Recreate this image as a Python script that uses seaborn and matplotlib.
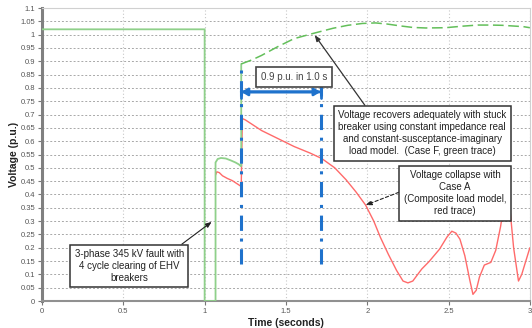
import matplotlib
matplotlib.use("Agg")
import matplotlib.pyplot as plt
import seaborn as sns
import pandas as pd
import numpy as np

# --- traces -------------------------------------------------------------
# Case F (constant impedance / constant susceptance load), through fault clearing
green_pre_t = [0.0, 1.0, 1.0, 1.067, 1.067, 1.08, 1.10, 1.13, 1.16, 1.19, 1.21, 1.225, 1.225]
green_pre_v = [1.02, 1.02, 0.0, 0.0, 0.52, 0.533, 0.537, 0.535, 0.528, 0.52, 0.513, 0.505, 0.89]
# Case F recovery after the stuck breaker clears
green_post_t = [1.225, 1.29, 1.35, 1.45, 1.55, 1.67, 1.79, 1.88, 1.97, 2.05, 2.12, 2.2,
                2.28, 2.36, 2.48, 2.59, 2.68, 2.76, 2.83, 2.96, 3.0]
green_post_v = [0.89, 0.905, 0.922, 0.955, 0.985, 1.005, 1.024, 1.035, 1.042, 1.044, 1.04, 1.033,
                1.027, 1.025, 1.026, 1.032, 1.036, 1.036, 1.035, 1.03, 1.026]
# Case A (composite load model)
red_t = [1.067, 1.075, 1.09, 1.11, 1.14, 1.17, 1.20, 1.225, 1.232, 1.25, 1.30, 1.35, 1.45,
         1.55, 1.65, 1.72, 1.80, 1.87, 1.93, 1.99, 2.04, 2.08, 2.13, 2.18, 2.22, 2.25,
         2.28, 2.335, 2.38, 2.445, 2.49, 2.52, 2.545, 2.57, 2.60, 2.63, 2.65, 2.67, 2.69,
         2.72, 2.76, 2.79, 2.82, 2.84, 2.86, 2.88, 2.90, 2.93, 2.95, 2.98, 3.0]
red_v = [0.473, 0.485, 0.482, 0.47, 0.46, 0.452, 0.44, 0.43, 0.685, 0.68, 0.66, 0.64, 0.61,
         0.58, 0.555, 0.535, 0.50, 0.455, 0.41, 0.36, 0.30, 0.24, 0.175, 0.115, 0.075, 0.068,
         0.075, 0.12, 0.148, 0.195, 0.24, 0.262, 0.255, 0.232, 0.17, 0.08, 0.025, 0.04, 0.09,
         0.135, 0.145, 0.19, 0.28, 0.36, 0.40, 0.33, 0.20, 0.075, 0.10, 0.16, 0.20]

# recovery window markers
window_t = [1.225, 1.713]
window_lo, window_hi = 0.14, 0.895
window_arrow_v = 0.785
window_label = "0.9 p.u. in 1.0 s"

x_ticks = [0, 0.5, 1, 1.5, 2, 2.5, 3]
x_tick_labels = ["0", "0.5", "1", "1.5", "2", "2.5", "3"]
y_ticks = [round(0.05 * i, 2) for i in range(23)]
y_tick_labels = ["0" if v == 0 else f"{v:g}" for v in y_ticks]

GREEN = "#63bf5a"
GREEN_LIGHT = "#8fd08a"
RED = "#ff6a6a"
BLUE = "#1f72cc"
FONT = "Liberation Sans"

sns.set_theme(style="white")
plt.rcParams["font.family"] = [FONT, "DejaVu Sans"]

fig = plt.figure(figsize=(5.32, 3.28), dpi=100)
ax = fig.add_axes([0.079, 0.0823, 0.917, 0.8933])

df_gpre = pd.DataFrame({"t": green_pre_t, "v": green_pre_v})
df_gpost = pd.DataFrame({"t": green_post_t, "v": green_post_v})
df_red = pd.DataFrame({"t": red_t, "v": red_v})

sns.lineplot(data=df_red, x="t", y="v", ax=ax, color=RED, lw=1.0, sort=False,
             estimator=None, zorder=3)
sns.lineplot(data=df_gpre, x="t", y="v", ax=ax, color=GREEN_LIGHT, lw=1.3, sort=False,
             estimator=None, zorder=3)
ax.lines[-1].set_solid_joinstyle("miter")
sns.lineplot(data=df_gpost, x="t", y="v", ax=ax, color=GREEN, lw=1.1, sort=False,
             estimator=None, zorder=3)
ax.lines[-1].set_dashes((7, 3))

# window markers
for t in window_t:
    ax.vlines(t, window_lo, window_hi, color=BLUE, lw=2.2, zorder=4,
              linestyles=[(0, (5, 2.5, 1, 2.5))])
ax.annotate("", xy=(window_t[0], window_arrow_v), xytext=(window_t[1], window_arrow_v),
            arrowprops=dict(arrowstyle="|-|, widthA=0.35, widthB=0.35", color=BLUE, lw=2.0,
                            shrinkA=0, shrinkB=0), zorder=5)
ax.annotate("", xy=(window_t[0], window_arrow_v), xytext=(window_t[1], window_arrow_v),
            arrowprops=dict(arrowstyle="<|-|>, head_length=0.3, head_width=0.18", color=BLUE,
                            lw=2.0, shrinkA=0, shrinkB=0), zorder=5)
ax.text(1.549, 0.84, window_label, ha="center", va="center", fontsize=7,
        color="#444444", fontfamily=FONT,
        bbox=dict(boxstyle="square,pad=0.5", fc="white", ec="#444444", lw=1.2), zorder=6)

box_kw = dict(boxstyle="square,pad=0.45", fc="white", ec="#333333", lw=1.1)

ax.annotate("3-phase 345 kV fault with\n4 cycle clearing of EHV\nbreakers",
            xy=(1.043, 0.297), xytext=(0.537, 0.131), textcoords="data",
            ha="center", va="center", fontsize=7, color="#222222", linespacing=1.25,
            bbox=box_kw, zorder=7,
            arrowprops=dict(arrowstyle="-|>, head_length=0.5, head_width=0.2", color="#222222",
                            lw=0.8, relpos=(0.92, 1.0), shrinkA=0, shrinkB=0))

ax.annotate("Voltage recovers adequately with stuck\nbreaker using constant impedance real\n"
            "and constant-susceptance-imaginary\nload model.  (Case F, green trace)",
            xy=(1.677, 0.998), xytext=(2.338, 0.63), textcoords="data",
            ha="center", va="center", fontsize=7, color="#222222", linespacing=1.25,
            bbox=box_kw, zorder=7,
            arrowprops=dict(arrowstyle="-|>, head_length=0.5, head_width=0.2", color="#333333",
                            lw=0.9, relpos=(0.18, 1.0), shrinkA=0, shrinkB=0))

ax.annotate("Voltage collapse with\nCase A\n(Composite load model,\nred trace)",
            xy=(1.99, 0.36), xytext=(2.54, 0.405), textcoords="data",
            ha="center", va="center", fontsize=7, color="#222222", linespacing=1.25,
            bbox=box_kw, zorder=7,
            arrowprops=dict(arrowstyle="-|>, head_length=0.5, head_width=0.2", color="#222222",
                            lw=0.8, ls=(0, (3, 2)), relpos=(0.0, 0.56), shrinkA=0, shrinkB=0))

# axes, ticks and grid
ax.set_xlim(0, 3)
ax.set_ylim(0, 1.1)
ax.set_xticks(x_ticks)
ax.set_xticklabels(x_tick_labels)
ax.set_xticks(np.arange(0, 3.0001, 0.125), minor=True)
ax.set_yticks(y_ticks)
ax.set_yticklabels(y_tick_labels)
ax.tick_params(axis="both", which="major", labelsize=5.5, labelcolor="#555555",
               color="#777777", length=3, width=0.8, pad=2)
ax.tick_params(axis="x", which="minor", length=2, width=0.6, color="#777777")
ax.tick_params(left=True, bottom=True)
for lab in ax.get_xticklabels() + ax.get_yticklabels():
    lab.set_fontfamily(FONT)

ax.yaxis.grid(True, which="major", color="#a8a8a8", lw=0.7, ls=(0, (2, 2)), zorder=0)
ax.xaxis.grid(True, which="major", color="#c8c8c8", lw=0.8, ls=(0, (1, 2)), zorder=0)
ax.set_axisbelow(True)

ax.spines["left"].set_color("#808080")
ax.spines["left"].set_linewidth(2.2)
ax.spines["bottom"].set_color("#909090")
ax.spines["bottom"].set_linewidth(1.5)
for s in ("top", "right"):
    ax.spines[s].set_color("#d0d0d0")
    ax.spines[s].set_linewidth(0.8)

ax.set_xlabel("Time (seconds)", fontsize=7.5, fontweight="bold", color="#222222",
              fontfamily=FONT, labelpad=2)
ax.set_ylabel("Voltage (p.u.)", fontsize=7.5, fontweight="bold", color="#222222",
              fontfamily=FONT, labelpad=1)

fig.savefig("out.png", dpi=100)
